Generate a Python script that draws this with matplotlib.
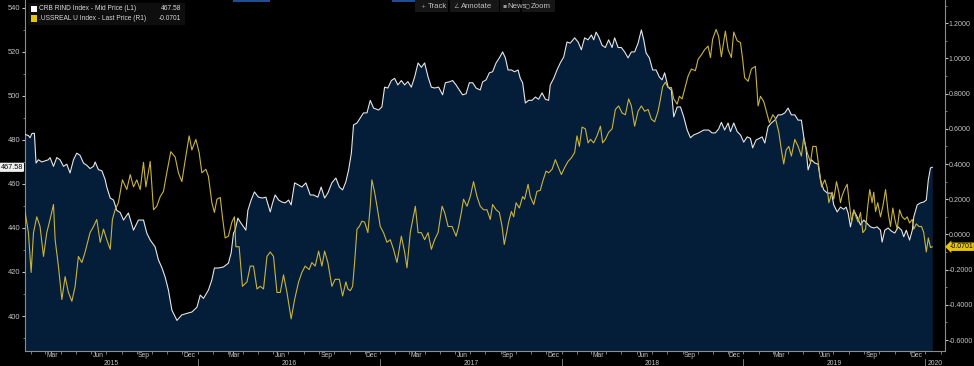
import pandas as pd
import matplotlib.pyplot as plt
import matplotlib.dates as mdates
import matplotlib.transforms as mtransforms
from matplotlib.ticker import MultipleLocator, FormatStrFormatter
from matplotlib.patches import Rectangle

# CRB RIND Index (left axis), dates as decimal years
crb_years = [
    2015.050, 2015.068, 2015.077, 2015.088, 2015.101, 2015.110, 2015.123, 2015.142,
    2015.160, 2015.178, 2015.187, 2015.206, 2015.224, 2015.242, 2015.261, 2015.279,
    2015.297, 2015.316, 2015.334, 2015.352, 2015.371, 2015.389, 2015.407, 2015.426,
    2015.435, 2015.453, 2015.472, 2015.490, 2015.499, 2015.518, 2015.536, 2015.554,
    2015.573, 2015.591, 2015.618, 2015.646, 2015.673, 2015.701, 2015.719, 2015.738,
    2015.765, 2015.783, 2015.802, 2015.820, 2015.838, 2015.857, 2015.885, 2015.912,
    2015.948, 2015.967, 2015.995, 2016.013, 2016.031, 2016.058, 2016.077, 2016.091,
    2016.113, 2016.141, 2016.168, 2016.183, 2016.196, 2016.205, 2016.220, 2016.233,
    2016.251, 2016.264, 2016.275, 2016.293, 2016.311, 2016.333, 2016.355, 2016.374,
    2016.398, 2016.411, 2016.425, 2016.444, 2016.462, 2016.480, 2016.499, 2016.513,
    2016.532, 2016.554, 2016.572, 2016.594, 2016.618, 2016.636, 2016.660, 2016.678,
    2016.697, 2016.715, 2016.737, 2016.759, 2016.778, 2016.796, 2016.814, 2016.829,
    2016.844, 2016.856, 2016.875, 2016.893, 2016.911, 2016.930, 2016.948, 2016.966,
    2016.994, 2017.012, 2017.027, 2017.045, 2017.064, 2017.082, 2017.100, 2017.119,
    2017.137, 2017.155, 2017.174, 2017.192, 2017.211, 2017.229, 2017.247, 2017.266,
    2017.284, 2017.302, 2017.324, 2017.346, 2017.361, 2017.383, 2017.401, 2017.420,
    2017.438, 2017.456, 2017.475, 2017.493, 2017.511, 2017.530, 2017.553, 2017.566,
    2017.585, 2017.603, 2017.621, 2017.640, 2017.658, 2017.676, 2017.691, 2017.706,
    2017.724, 2017.742, 2017.761, 2017.773, 2017.786, 2017.801, 2017.819, 2017.838,
    2017.856, 2017.874, 2017.893, 2017.911, 2017.929, 2017.938, 2017.957, 2017.975,
    2017.993, 2018.012, 2018.030, 2018.048, 2018.072, 2018.091, 2018.109, 2018.127,
    2018.146, 2018.164, 2018.177, 2018.190, 2018.204, 2018.223, 2018.241, 2018.259,
    2018.278, 2018.292, 2018.311, 2018.329, 2018.347, 2018.366, 2018.384, 2018.402,
    2018.421, 2018.439, 2018.452, 2018.465, 2018.483, 2018.501, 2018.520, 2018.538,
    2018.553, 2018.567, 2018.586, 2018.604, 2018.617, 2018.636, 2018.654, 2018.672,
    2018.691, 2018.709, 2018.727, 2018.754, 2018.782, 2018.809, 2018.828, 2018.846,
    2018.864, 2018.879, 2018.897, 2018.916, 2018.929, 2018.947, 2018.966, 2018.984,
    2019.002, 2019.021, 2019.039, 2019.051, 2019.070, 2019.088, 2019.103, 2019.118,
    2019.136, 2019.154, 2019.173, 2019.191, 2019.209, 2019.228, 2019.246, 2019.264,
    2019.283, 2019.301, 2019.319, 2019.332, 2019.345, 2019.356, 2019.374, 2019.393,
    2019.411, 2019.424, 2019.442, 2019.461, 2019.485, 2019.497, 2019.516, 2019.534,
    2019.552, 2019.565, 2019.576, 2019.589, 2019.607, 2019.626, 2019.644, 2019.662,
    2019.681, 2019.699, 2019.717, 2019.736, 2019.754, 2019.763, 2019.778, 2019.796,
    2019.815, 2019.833, 2019.851, 2019.870, 2019.882, 2019.896, 2019.914, 2019.929,
    2019.937, 2019.956, 2019.974, 2019.992, 2020.006, 2020.017, 2020.029, 2020.039,
]
crb_values = [
    482.5, 482.0, 481.0, 483.0, 483.0, 469.5, 471.0, 470.0,
    470.5, 471.0, 472.0, 468.0, 472.0, 471.0, 468.0, 469.0,
    465.0, 471.0, 474.0, 473.0, 469.5, 468.5, 467.0, 468.0,
    470.0, 466.5, 466.0, 462.0, 458.6, 453.6, 452.7, 448.0,
    447.0, 443.6, 446.8, 439.0, 443.6, 443.6, 437.7, 434.5,
    431.4, 425.5, 422.0, 417.7, 411.8, 402.7, 398.0, 400.5,
    401.4, 401.8, 404.0, 409.5, 408.0, 411.8, 416.4, 421.8,
    421.8, 422.3, 424.0, 428.6, 437.7, 439.0, 444.5, 442.7,
    440.5, 439.0, 448.0, 452.7, 456.4, 454.0, 453.6, 454.0,
    447.3, 451.4, 455.0, 452.7, 451.8, 451.4, 452.7, 450.5,
    460.5, 459.5, 458.6, 460.5, 455.0, 455.0, 454.0, 458.6,
    453.6, 455.9, 460.5, 462.7, 458.6, 457.3, 461.0, 466.4,
    474.0, 486.8, 487.7, 490.0, 492.3, 492.3, 498.0, 494.5,
    493.6, 495.0, 504.0, 503.6, 507.0, 508.0, 505.0, 507.0,
    505.0, 506.5, 504.0, 508.6, 515.0, 513.0, 515.0, 508.6,
    504.0, 503.6, 504.0, 500.5, 506.0, 506.4, 507.0, 505.0,
    502.7, 500.5, 501.0, 506.0, 506.0, 503.6, 502.7, 506.4,
    507.3, 510.5, 511.0, 515.0, 517.3, 520.0, 517.3, 511.8,
    511.8, 511.0, 511.8, 508.0, 506.0, 496.8, 498.0, 498.0,
    499.5, 498.5, 501.4, 498.5, 498.0, 505.0, 508.0, 511.8,
    515.0, 517.7, 524.5, 524.0, 526.4, 524.5, 521.0, 526.4,
    525.5, 527.7, 525.5, 529.0, 527.0, 523.0, 522.0, 525.5,
    522.0, 526.4, 522.0, 522.0, 520.0, 517.3, 520.0, 520.0,
    524.0, 530.0, 525.5, 519.5, 517.3, 511.8, 511.8, 508.6,
    507.3, 510.5, 504.0, 502.7, 490.5, 495.0, 495.0, 490.5,
    484.5, 481.0, 482.3, 483.2, 484.5, 484.5, 483.2, 483.2,
    485.0, 488.0, 484.5, 487.7, 483.8, 487.7, 483.8, 482.3,
    479.0, 481.4, 480.7, 476.4, 480.0, 480.7, 481.4, 478.6,
    486.0, 487.7, 489.0, 491.4, 491.4, 492.3, 494.5, 491.4,
    491.4, 489.0, 489.0, 481.4, 475.5, 466.4, 471.0, 469.5,
    469.0, 461.8, 457.3, 455.9, 455.8, 450.5, 447.3, 449.5,
    448.5, 449.5, 446.8, 440.5, 448.0, 445.0, 441.4, 443.6,
    442.0, 440.5, 440.0, 440.5, 439.0, 433.6, 439.0, 440.0,
    438.5, 437.7, 440.5, 439.0, 436.0, 439.0, 434.5, 439.0,
    445.0, 450.5, 451.4, 451.8, 452.7, 461.8, 467.3, 467.58,
]

# .USSREAL U Index (right axis), dates as decimal years
real_years = [
    2015.050, 2015.068, 2015.083, 2015.096, 2015.114, 2015.132, 2015.151, 2015.169,
    2015.187, 2015.206, 2015.215, 2015.233, 2015.252, 2015.270, 2015.288, 2015.307,
    2015.325, 2015.343, 2015.362, 2015.380, 2015.407, 2015.426, 2015.444, 2015.463,
    2015.481, 2015.499, 2015.518, 2015.530, 2015.545, 2015.563, 2015.585, 2015.609,
    2015.628, 2015.646, 2015.664, 2015.683, 2015.701, 2015.714, 2015.738, 2015.756,
    2015.774, 2015.793, 2015.811, 2015.829, 2015.851, 2015.875, 2015.893, 2015.912,
    2015.930, 2015.952, 2015.967, 2015.989, 2016.007, 2016.022, 2016.044, 2016.058,
    2016.077, 2016.091, 2016.105, 2016.123, 2016.135, 2016.150, 2016.168, 2016.187,
    2016.201, 2016.209, 2016.227, 2016.245, 2016.270, 2016.288, 2016.306, 2016.325,
    2016.343, 2016.361, 2016.380, 2016.398, 2016.416, 2016.435, 2016.453, 2016.471,
    2016.490, 2016.513, 2016.532, 2016.554, 2016.572, 2016.590, 2016.612, 2016.627,
    2016.645, 2016.664, 2016.682, 2016.697, 2016.715, 2016.737, 2016.755, 2016.778,
    2016.796, 2016.814, 2016.825, 2016.838, 2016.851, 2016.862, 2016.875, 2016.888,
    2016.902, 2016.917, 2016.935, 2016.948, 2016.957, 2016.972, 2016.985, 2017.003,
    2017.021, 2017.040, 2017.058, 2017.076, 2017.095, 2017.119, 2017.137, 2017.150,
    2017.168, 2017.196, 2017.211, 2017.229, 2017.247, 2017.266, 2017.284, 2017.302,
    2017.321, 2017.343, 2017.357, 2017.376, 2017.398, 2017.420, 2017.434, 2017.449,
    2017.461, 2017.480, 2017.498, 2017.516, 2017.535, 2017.553, 2017.571, 2017.590,
    2017.608, 2017.621, 2017.640, 2017.658, 2017.673, 2017.685, 2017.700, 2017.709,
    2017.724, 2017.737, 2017.750, 2017.768, 2017.786, 2017.797, 2017.816, 2017.828,
    2017.847, 2017.865, 2017.883, 2017.896, 2017.915, 2017.929, 2017.948, 2017.966,
    2017.981, 2017.999, 2018.017, 2018.036, 2018.054, 2018.072, 2018.085, 2018.098,
    2018.113, 2018.131, 2018.146, 2018.159, 2018.177, 2018.195, 2018.214, 2018.226,
    2018.241, 2018.259, 2018.278, 2018.296, 2018.314, 2018.333, 2018.351, 2018.369,
    2018.384, 2018.402, 2018.421, 2018.439, 2018.457, 2018.476, 2018.494, 2018.512,
    2018.531, 2018.544, 2018.556, 2018.571, 2018.586, 2018.604, 2018.617, 2018.636,
    2018.648, 2018.663, 2018.677, 2018.696, 2018.714, 2018.736, 2018.751, 2018.769,
    2018.787, 2018.806, 2018.819, 2018.831, 2018.850, 2018.864, 2018.879, 2018.901,
    2018.916, 2018.934, 2018.947, 2018.966, 2018.984, 2018.996, 2019.007, 2019.026,
    2019.044, 2019.066, 2019.081, 2019.094, 2019.112, 2019.131, 2019.143, 2019.162,
    2019.176, 2019.195, 2019.209, 2019.222, 2019.235, 2019.250, 2019.264, 2019.283,
    2019.301, 2019.319, 2019.332, 2019.351, 2019.369, 2019.382, 2019.400, 2019.415,
    2019.430, 2019.448, 2019.461, 2019.470, 2019.488, 2019.497, 2019.512, 2019.525,
    2019.534, 2019.543, 2019.556, 2019.571, 2019.580, 2019.595, 2019.607, 2019.620,
    2019.631, 2019.644, 2019.657, 2019.672, 2019.684, 2019.695, 2019.708, 2019.717,
    2019.727, 2019.739, 2019.754, 2019.767, 2019.782, 2019.796, 2019.809, 2019.822,
    2019.833, 2019.846, 2019.859, 2019.873, 2019.888, 2019.901, 2019.914, 2019.929,
    2019.937, 2019.951, 2019.965, 2019.980, 2019.992, 2020.006, 2020.017, 2020.029,
    2020.039,
]
real_values = [
    0.125, 0.011, -0.216, 0.010, 0.100, 0.045, -0.125, 0.010,
    0.085, 0.170, -0.030, -0.180, -0.370, -0.240, -0.330, -0.380,
    -0.295, -0.125, -0.160, -0.100, 0.010, 0.045, 0.085, -0.045,
    0.030, -0.030, -0.085, 0.085, 0.140, 0.180, 0.310, 0.255,
    0.340, 0.270, 0.310, 0.255, 0.410, 0.270, 0.415, 0.140,
    0.160, 0.215, 0.245, 0.350, 0.470, 0.440, 0.350, 0.300,
    0.420, 0.560, 0.480, 0.540, 0.465, 0.350, 0.370, 0.330,
    0.180, 0.125, 0.200, 0.210, 0.100, -0.020, -0.010, 0.070,
    0.100, -0.070, -0.070, -0.295, -0.270, -0.180, -0.180, -0.310,
    -0.295, -0.310, -0.125, -0.100, -0.125, -0.330, -0.330, -0.230,
    -0.330, -0.480, -0.370, -0.270, -0.216, -0.180, -0.200, -0.160,
    -0.180, -0.095, -0.180, -0.095, -0.160, -0.295, -0.255, -0.255,
    -0.350, -0.270, -0.310, -0.320, -0.295, -0.160, 0.030, 0.045,
    0.075, 0.070, 0.010, 0.160, 0.310, 0.240, 0.160, 0.045,
    0.010, -0.045, -0.030, -0.085, -0.160, -0.010, -0.100, -0.190,
    0.010, 0.160, 0.010, 0.010, -0.030, 0.010, -0.085, -0.030,
    0.010, 0.160, 0.125, 0.045, 0.045, -0.010, 0.045, 0.125,
    0.200, 0.160, 0.215, 0.300, 0.215, 0.160, 0.140, 0.140,
    0.085, 0.170, 0.140, 0.125, 0.045, -0.057, 0.020, 0.070,
    0.130, 0.100, 0.180, 0.150, 0.215, 0.200, 0.285, 0.215,
    0.170, 0.245, 0.250, 0.300, 0.360, 0.350, 0.370, 0.425,
    0.385, 0.340, 0.380, 0.415, 0.435, 0.465, 0.560, 0.500,
    0.610, 0.600, 0.520, 0.540, 0.520, 0.560, 0.615, 0.520,
    0.540, 0.580, 0.600, 0.710, 0.730, 0.690, 0.680, 0.770,
    0.730, 0.615, 0.700, 0.730, 0.700, 0.710, 0.655, 0.640,
    0.700, 0.770, 0.840, 0.865, 0.835, 0.835, 0.770, 0.740,
    0.785, 0.770, 0.825, 0.900, 0.940, 0.930, 0.995, 1.020,
    1.050, 1.070, 1.005, 1.110, 1.165, 1.125, 1.010, 1.155,
    1.050, 1.005, 1.150, 1.100, 1.090, 0.995, 0.890, 0.870,
    0.940, 0.955, 0.730, 0.785, 0.755, 0.680, 0.635, 0.680,
    0.660, 0.580, 0.480, 0.400, 0.480, 0.500, 0.445, 0.540,
    0.500, 0.445, 0.550, 0.465, 0.410, 0.500, 0.500, 0.385,
    0.270, 0.310, 0.265, 0.180, 0.240, 0.200, 0.300, 0.240,
    0.180, 0.220, 0.255, 0.285, 0.200, 0.070, 0.140, 0.100,
    0.070, 0.125, 0.010, 0.030, 0.160, 0.255, 0.180, 0.240,
    0.130, 0.180, 0.100, 0.160, 0.255, 0.125, 0.045, 0.150,
    0.085, 0.030, 0.140, 0.100, 0.085, 0.100, 0.065, 0.085,
    0.030, 0.060, 0.045, 0.045, 0.010, -0.100, -0.020, -0.075,
    -0.0701,
]

years_shown = [2015, 2016, 2017, 2018, 2019, 2020]
legend_labels = ["CRB RIND Index - Mid Price (L1)", ".USSREAL U Index - Last Price (R1)"]
legend_values = ["467.58", "-0.0701"]
toolbar_icons = ["+", "\u2220", "\u25aa", "\u25cb"]
toolbar_names = ["Track", "Annotate", "News", "Zoom"]

BG = "#000000"
NAVY = "#041d38"
WHITE_LINE = "#e6e6e6"
YELLOW = "#c9b43a"
TXT = "#c4c4c4"
SPINE = "#8c8c8c"


def to_dates(years):
    yrs = pd.Series(years, dtype=float)
    return pd.Timestamp("2015-01-01") + pd.to_timedelta((yrs - 2015) * 365.25, unit="D")


def create_graph():
    plt.rcParams["axes.unicode_minus"] = False
    plt.rcParams["font.family"] = ["Liberation Sans", "DejaVu Sans"]

    fig = plt.figure(figsize=(9.74, 3.66), dpi=100, facecolor=BG)
    ax = fig.add_axes([25 / 974, 15 / 366, 920 / 974, 351 / 366])
    ax.set_facecolor(BG)
    ax2 = ax.twinx()

    crb_dates = to_dates(crb_years)
    real_dates = to_dates(real_years)

    x0 = pd.Timestamp("2015-01-19")
    x1 = pd.Timestamp("2020-02-10")
    y_lo, y_hi = 384.1, 543.6

    # area + lines
    ax.fill_between(crb_dates, crb_values, y_lo, color=NAVY, lw=0, zorder=1)
    ax.plot(crb_dates, crb_values, color=WHITE_LINE, lw=0.8, zorder=3)
    ax2.plot(real_dates, real_values, color=YELLOW, lw=0.8, zorder=3)

    ax.set_xlim(x0, x1)
    ax.set_ylim(y_lo, y_hi)
    ax2.set_ylim(-0.6625, 1.332)

    # spines
    for a in (ax, ax2):
        for s in a.spines.values():
            s.set_visible(False)
    ax.spines["left"].set_visible(True)
    ax.spines["left"].set_color(SPINE)
    ax.spines["bottom"].set_visible(True)
    ax.spines["bottom"].set_color(SPINE)
    ax2.spines["right"].set_visible(True)
    ax2.spines["right"].set_color(SPINE)

    # left axis
    ax.yaxis.set_major_locator(MultipleLocator(20))
    ax.yaxis.set_minor_locator(MultipleLocator(10))
    ax.yaxis.set_major_formatter(FormatStrFormatter("%d"))
    ax.tick_params(axis="y", which="major", colors=TXT, labelsize=5.4, length=2.5, pad=1, width=0.8)
    ax.tick_params(axis="y", which="minor", colors=SPINE, length=1.5, width=0.6)

    # right axis
    ax2.yaxis.set_major_locator(MultipleLocator(0.2))
    ax2.yaxis.set_minor_locator(MultipleLocator(0.1))
    ax2.yaxis.set_major_formatter(FormatStrFormatter("%.4f"))
    ax2.tick_params(axis="y", which="major", colors=TXT, labelsize=5.1, length=2, pad=0.6, width=0.8)
    ax2.tick_params(axis="y", which="minor", colors=SPINE, length=1.5, width=0.6)

    # bottom axis: month ticks, quarter labels mid-month
    ax.xaxis.set_major_locator(mdates.MonthLocator())
    ax.xaxis.set_major_formatter(plt.NullFormatter())
    ax.xaxis.set_minor_locator(mdates.MonthLocator(bymonth=[3, 6, 9, 12], bymonthday=15))
    ax.xaxis.set_minor_formatter(mdates.DateFormatter("%b"))
    ax.tick_params(axis="x", which="major", colors=SPINE, length=2, width=0.6)
    ax.tick_params(axis="x", which="minor", colors=TXT, labelsize=4.9, length=0, pad=0.8)

    # year labels and separators
    trans = mtransforms.blended_transform_factory(ax.transData, ax.transAxes)
    for yr in years_shown:
        start = max(pd.Timestamp(f"{yr}-01-01"), x0)
        end = min(pd.Timestamp(f"{yr + 1}-01-01"), x1)
        mid = start + (end - start) / 2
        ax.text(mdates.date2num(mid), -0.036, str(yr), transform=trans,
                ha="center", va="center", fontsize=4.9, color=TXT)
        if yr > 2015:
            sep = mdates.date2num(pd.Timestamp(f"{yr}-01-01"))
            ax.plot([sep, sep], [-0.022, -0.045], transform=trans, color=SPINE,
                    lw=0.6, clip_on=False)

    # last value tags
    ax.annotate(legend_values[0], xy=(0, 467.58),
                xycoords=mtransforms.blended_transform_factory(ax.transAxes, ax.transData),
                xytext=(-1.5, 0), textcoords="offset points", ha="right", va="center",
                fontsize=5.2, color="#000000",
                bbox=dict(boxstyle="round,pad=0.15", fc="#f0f0f0", ec="none"),
                annotation_clip=False)
    ax2.annotate(legend_values[1], xy=(1, -0.0701),
                 xycoords=mtransforms.blended_transform_factory(ax2.transAxes, ax2.transData),
                 xytext=(3.2, 0), textcoords="offset points", ha="left", va="center",
                 fontsize=5.0, color="#000000",
                 bbox=dict(boxstyle="larrow,pad=0.1", fc="#e8c40a", ec="none"),
                 annotation_clip=False)

    # legend box
    fig.patches.append(Rectangle((28 / 974, 1 - 25 / 366), 157 / 974, 22 / 366,
                                 transform=fig.transFigure, fc="#0e0e0e", ec="none"))
    marks = ["#ffffff", "#e8c40a"]
    for i, (lab, val) in enumerate(zip(legend_labels, legend_values)):
        yc = 1 - (9 + i * 9.5) / 366
        fig.patches.append(Rectangle((31 / 974, yc - 3.3 / 366), 6 / 974, 6.6 / 366,
                                     transform=fig.transFigure, fc=marks[i], ec="none"))
        fig.text(39 / 974, yc, lab, fontsize=4.8, color="#d8d8d8", va="center", ha="left")
        fig.text(181 / 974, yc, val, fontsize=4.8, color="#d8d8d8", va="center", ha="right")

    # toolbar, one dark box per button
    tb_left = [415, 450, 500, 522]
    tb_width = [33, 49, 20, 33]
    icon_x = [420, 453, 502, 525]
    name_x = [428, 461, 507, 531]
    for tx, tw, ix, nx, icon, name in zip(tb_left, tb_width, icon_x, name_x,
                                          toolbar_icons, toolbar_names):
        fig.patches.append(Rectangle((tx / 974, 1 - 12 / 366), tw / 974, 12 / 366,
                                     transform=fig.transFigure, fc="#161616", ec="none"))
        fig.text(ix / 974, 1 - 6 / 366, icon, fontsize=4.5, color="#9a9a9a",
                 va="center", ha="left", family="DejaVu Sans")
        fig.text(nx / 974, 1 - 6 / 366, name, fontsize=5.6, color="#c0c0c0",
                 va="center", ha="left")

    # thin tabs along the top edge
    fig.patches.append(Rectangle((233 / 974, 1 - 1.5 / 366), 37 / 974, 1.5 / 366,
                                 transform=fig.transFigure, fc="#1f4f90", ec="none"))
    fig.patches.append(Rectangle((392 / 974, 1 - 1.5 / 366), 23 / 974, 1.5 / 366,
                                 transform=fig.transFigure, fc="#1f4f90", ec="none"))

    fig.savefig("out.png", dpi=100, facecolor=BG)


def main():
    create_graph()


if __name__ == "__main__":
    main()
